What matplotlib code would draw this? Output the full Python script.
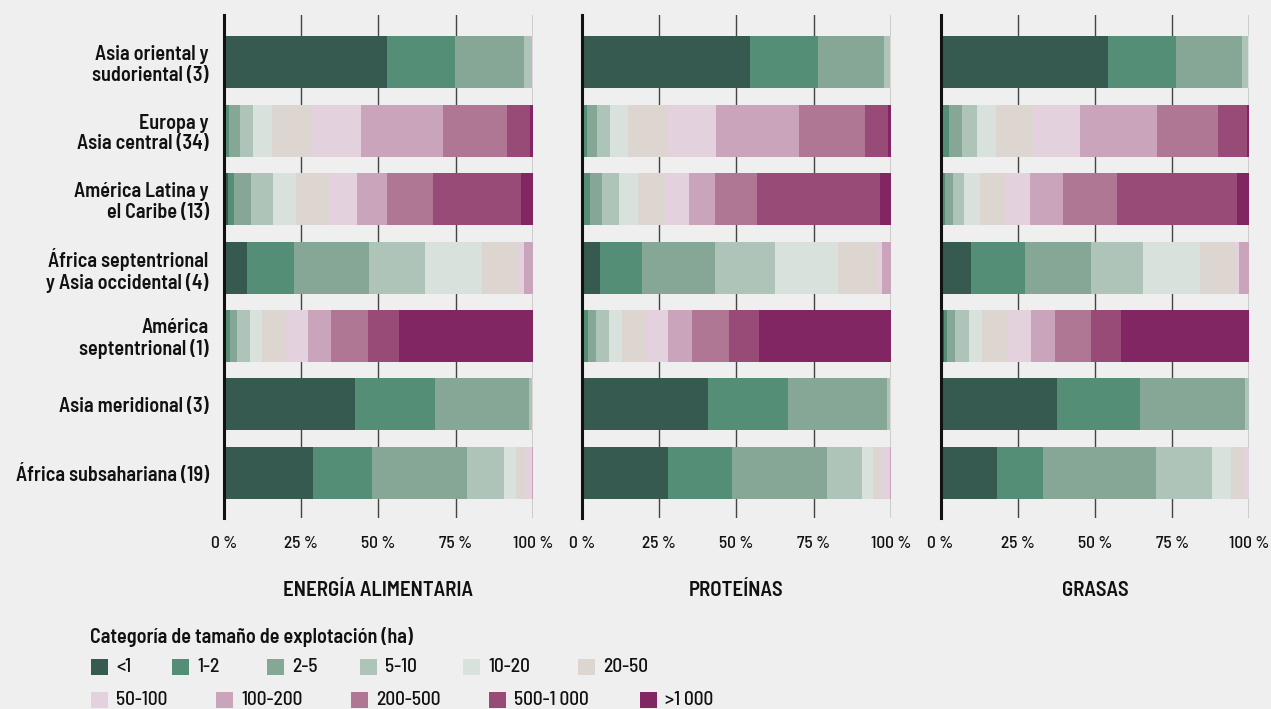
import numpy as np
import matplotlib.pyplot as plt
from matplotlib.patches import Rectangle

plt.rcParams['font.family'] = ['Barlow Semi Condensed', 'DejaVu Sans']

regions = ['Asia oriental y\nsudoriental (3)', 'Europa y\nAsia central (34)',
           'América Latina y\nel Caribe (13)', 'África septentrional\ny Asia occidental (4)',
           'América\nseptentrional (1)', 'Asia meridional (3)', 'África subsahariana (19)']
categories = ['<1', '1-2', '2-5', '5-10', '10-20', '20-50',
              '50-100', '100-200', '200-500', '500-1 000', '>1 000']
colors = ['#375a50', '#548e76', '#86a795', '#afc4b8', '#d9e1dc', '#ddd5d0',
          '#e3d1de', '#caa4bb', '#b07795', '#984b77', '#822663']
panels = ['ENERGÍA ALIMENTARIA', 'PROTEÍNAS', 'GRASAS']
ticks = [0, 25, 50, 75, 100]

# shares (%) per region, columns follow categories
energia = [
    [52.8, 22.1, 22.4, 2.3, 0.2, 0.1, 0.1, 0, 0, 0, 0],
    [0.3, 1.2, 3.6, 4.2, 6.2, 13.0, 15.9, 26.6, 20.8, 7.4, 0.8],
    [1.2, 1.9, 5.6, 7.1, 7.5, 11.0, 8.8, 9.7, 14.9, 28.6, 3.7],
    [7.4, 15.2, 24.4, 18.2, 18.5, 11.5, 1.8, 3.0, 0, 0, 0],
    [0.2, 1.6, 2.3, 4.2, 3.9, 7.8, 7.2, 7.4, 12.0, 10.1, 43.3],
    [42.4, 26.0, 30.5, 0.9, 0.1, 0.1, 0, 0, 0, 0, 0],
    [28.8, 19.1, 30.9, 12.0, 3.9, 2.9, 2.1, 0.3, 0, 0, 0],
]
proteinas = [
    [54.3, 22.1, 21.3, 2.0, 0.2, 0.1, 0, 0, 0, 0, 0],
    [0.4, 1.2, 3.2, 4.2, 5.9, 12.6, 15.8, 26.9, 21.4, 7.4, 1.0],
    [0.8, 1.8, 3.8, 5.6, 6.1, 8.9, 7.6, 8.4, 13.6, 39.8, 3.6],
    [5.8, 13.6, 23.6, 19.5, 20.3, 12.7, 1.6, 2.9, 0, 0, 0],
    [0.8, 1.1, 2.6, 4.2, 4.2, 7.7, 7.2, 7.8, 12.0, 9.7, 42.7],
    [40.8, 25.9, 32.0, 1.0, 0.2, 0.1, 0, 0, 0, 0, 0],
    [27.8, 20.7, 30.8, 11.3, 3.6, 2.9, 2.6, 0.3, 0, 0, 0],
]
grasas = [
    [54.2, 22.0, 21.4, 1.9, 0.3, 0.2, 0, 0, 0, 0, 0],
    [0.8, 2.0, 4.2, 4.8, 6.2, 12.3, 14.9, 24.9, 19.7, 9.4, 0.8],
    [0.5, 1.0, 2.5, 3.6, 5.2, 8.1, 8.1, 10.7, 17.4, 38.9, 4.0],
    [9.9, 17.5, 21.3, 16.9, 18.4, 11.3, 1.3, 3.4, 0, 0, 0],
    [1.1, 1.0, 2.6, 4.5, 4.2, 8.5, 7.4, 7.8, 11.6, 9.7, 41.6],
    [37.7, 26.9, 34.0, 1.3, 0.1, 0, 0, 0, 0, 0, 0],
    [18.3, 14.9, 36.6, 18.1, 6.1, 3.9, 1.9, 0.2, 0, 0, 0],
]

bg = '#efefef'
txt = '#111111'
W, H = 1271, 709
fig = plt.figure(figsize=(W / 100, H / 100), dpi=100, facecolor=bg)

lefts = [224 / W, 582 / W, 940.5 / W]
width = 308.8 / W
bottom = 1 - 518 / H
height = (518 - 15) / H
y = np.arange(len(regions))

for k, data in enumerate([energia, proteinas, grasas]):
    ax = fig.add_axes([lefts[k], bottom, width, height], facecolor=bg)
    arr = np.array(data)
    arr = arr / arr.sum(axis=1, keepdims=True) * 100
    left = np.zeros(len(regions))
    for j, cat in enumerate(categories):
        ax.barh(y, arr[:, j], left=left, height=0.76, color=colors[j], zorder=2)
        left += arr[:, j]
    ax.set_xlim(0, 100)
    ax.set_ylim(6.66, -0.69)
    for t in ticks[1:]:
        ax.axvline(t, color='#444444', lw=1, zorder=1)
    for s in ['top', 'right', 'bottom']:
        ax.spines[s].set_visible(False)
    ax.spines['left'].set_linewidth(2.2)
    ax.spines['left'].set_color('#111111')
    ax.spines['left'].set_zorder(3)
    ax.set_xticks(ticks)
    ax.set_xticklabels([f'{t}\u2009%' for t in ticks], fontsize=12.5, fontweight=500, color=txt)
    ax.tick_params(axis='x', length=0, pad=13)
    if k == 0:
        ax.set_yticks(y)
        ax.set_yticklabels(regions, fontsize=14.5, fontweight=600, color=txt,
                           linespacing=1.1)
        ax.tick_params(axis='y', length=0, pad=11)
    else:
        ax.set_yticks([])
    fig.text(lefts[k] + width / 2, 1 - 590 / H, panels[k], ha='center', va='center',
             fontsize=15, fontweight=600, color=txt)

# legend
fig.text(90 / W, 1 - 637 / H, 'Categoría de tamaño de explotación (ha)',
         ha='left', va='center', fontsize=14.5, fontweight=600, color=txt)
row_y = [667, 700]
xs = [[91, 172, 267, 360, 463, 578], [91, 216, 351, 489, 640]]
idx = 0
for r in range(2):
    for xpx in xs[r]:
        fig.add_artist(Rectangle((xpx / W, 1 - (row_y[r] + 8) / H), 17 / W, 16 / H,
                                 transform=fig.transFigure, color=colors[idx], lw=0))
        fig.text((xpx + 25) / W, 1 - row_y[r] / H, categories[idx], ha='left',
                 va='center', fontsize=14, fontweight=500, color=txt)
        idx += 1

fig.savefig('out.png', dpi=100, facecolor=bg)
